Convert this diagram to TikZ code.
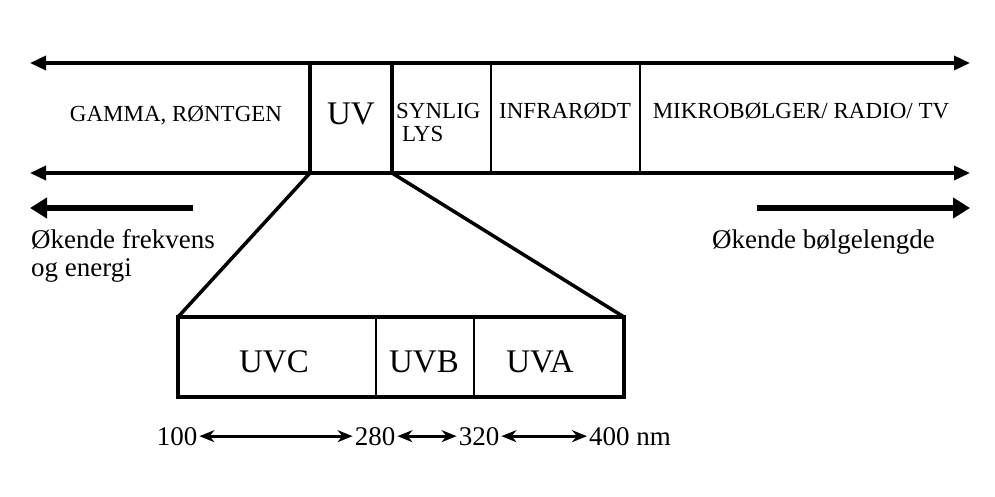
\documentclass[tikz,border=0pt]{standalone}
\usepackage{fontspec}
\setmainfont{Liberation Serif}
\usetikzlibrary{arrows.meta}
\begin{document}
\begin{tikzpicture}[x=1pt,y=-1pt,
  band/.style={line width=3.5pt,{Triangle[length=16pt,width=14pt]}-{Triangle[length=16pt,width=14pt]}},
  divline/.style={line width=2.2pt},
  boxline/.style={line width=3.5pt},
  bigarrow/.style={line width=6.5pt,-{Triangle[length=17pt,width=20pt]}},
  numarrow/.style={line width=2.8pt,{Stealth[length=15pt,width=12pt]}-{Stealth[length=15pt,width=12pt]}},
  bandtxt/.style={font=\fontsize{23}{25}\selectfont,inner sep=0pt,anchor=base},
  bigtxt/.style={font=\fontsize{33}{36}\selectfont,inner sep=0pt,anchor=base},
  sidetxt/.style={font=\fontsize{27}{30}\selectfont,inner sep=0pt,anchor=base west},
  numtxt/.style={font=\fontsize{27}{30}\selectfont,inner sep=2pt,anchor=base}]
\useasboundingbox[fill=white] (0,0) rectangle (995,497);
% band coordinates
\coordinate (TL) at (30,63);
\coordinate (TR) at (970,63);
\coordinate (BL) at (30,173);
\coordinate (BR) at (970,173);
\coordinate (uvT1) at (310,63);
\coordinate (uvB1) at (310,173);
\coordinate (uvT2) at (392,63);
\coordinate (uvB2) at (392,173);
\coordinate (d1T) at (491,63);
\coordinate (d1B) at (491,173);
\coordinate (d2T) at (640,63);
\coordinate (d2B) at (640,173);
% lower box
\coordinate (bTL) at (178,317);
\coordinate (bTR) at (624,317);
\coordinate (bBL) at (178,397);
\coordinate (bBR) at (624,397);
\coordinate (e1T) at (376,317);
\coordinate (e1B) at (376,397);
\coordinate (e2T) at (474,317);
\coordinate (e2B) at (474,397);
% band lines
\draw[band] (TL) -- (TR);
\draw[band] (BL) -- (BR);
\draw[boxline] (uvT1) -- (uvB1);
\draw[boxline] (uvT2) -- (uvB2);
\draw[divline] (d1T) -- (d1B);
\draw[divline] (d2T) -- (d2B);
% funnel
\draw[boxline,line join=miter] (uvB1) -- (bTL);
\draw[boxline,line join=miter] (uvB2) -- (bTR);
\draw[boxline] (bTL) rectangle (bBR);
\draw[divline] (e1T) -- (e1B);
\draw[divline] (e2T) -- (e2B);
% band labels
\node[bandtxt] (gamma) at (176,122) {GAMMA, RØNTGEN};
\node[bigtxt] (uv) at (351,125) {UV};
\node[bandtxt,anchor=base west] (synlig) at (396,119) {SYNLIG};
\node[bandtxt,anchor=base west] (lys) at (402,142) {LYS};
\node[bandtxt] (infra) at (565,119) {INFRARØDT};
\node[bandtxt] (mikro) at (801,119) {MIKROBØLGER/ RADIO/ TV};
% big arrows
\coordinate (la1) at (193,208);
\coordinate (la2) at (30,208);
\coordinate (ra1) at (757,208);
\coordinate (ra2) at (970,208);
\draw[bigarrow] (la1) -- (la2);
\draw[bigarrow] (ra1) -- (ra2);
\node[sidetxt] (freq) at (31,248) {Økende frekvens};
\node[sidetxt] (energi) at (31,276) {og energi};
\node[sidetxt] (wave) at (712,248) {Økende bølgelengde};
% UV sub-bands
\node[bigtxt] (uvc) at (274,372) {UVC};
\node[bigtxt] (uvb) at (424,372) {UVB};
\node[bigtxt] (uva) at (540,372) {UVA};
% wavelength scale
\node[numtxt] (n100) at (177,445) {100};
\node[numtxt] (n280) at (375,445) {280};
\node[numtxt] (n320) at (479,445) {320};
\node[numtxt,anchor=base west] (n400) at (587,445) {400 nm};
\draw[numarrow] (n100.east) -- (n280.west);
\draw[numarrow] (n280.east) -- (n320.west);
\draw[numarrow] (n320.east) -- (n400.west);
\end{tikzpicture}
\end{document}
